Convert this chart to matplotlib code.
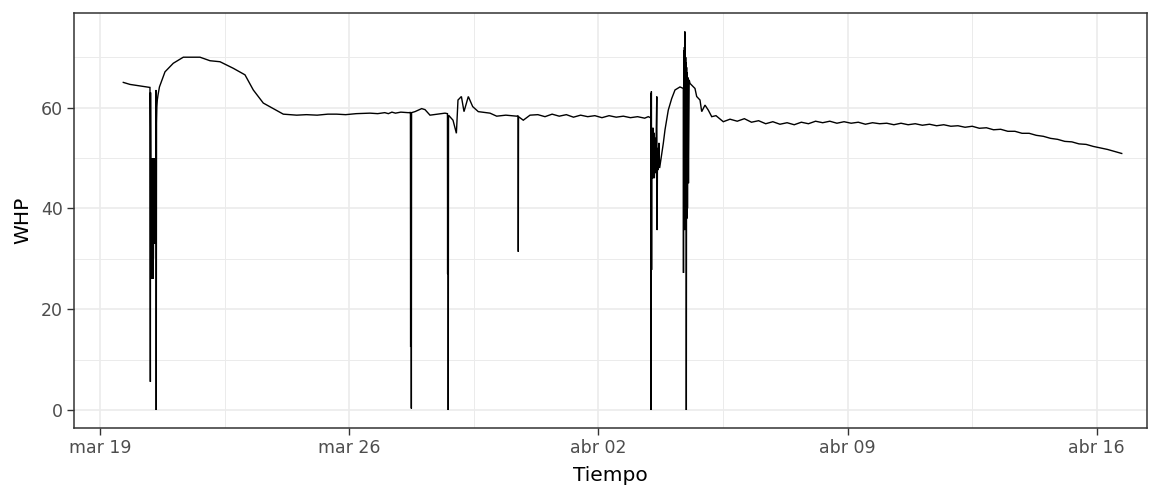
import numpy as np
import pandas as pd
import matplotlib
matplotlib.use("Agg")
import matplotlib.pyplot as plt

# ---------------- data (days since 2019-03-19 00:00, WHP) ----------------
start_date = "2019-03-19"

days = [
    0.655, 0.843, 1.124, 1.404,
    1.415, 1.420, 1.428, 1.436, 1.444, 1.452, 1.460, 1.468, 1.476, 1.484,
    1.492, 1.500, 1.508, 1.516, 1.524, 1.532, 1.540, 1.548, 1.556, 1.564,
    1.572, 1.580, 1.588, 1.598, 1.610, 1.630, 1.670,
    1.826, 2.059, 2.340, 2.809, 3.090, 3.371, 3.744, 4.073, 4.306, 4.587,
    4.868, 5.149, 5.525, 5.800, 6.100, 6.400, 6.649, 6.900, 7.200, 7.584,
    7.800, 8.000, 8.100, 8.200, 8.300, 8.450, 8.652,
    8.700, 8.720, 8.726, 8.730, 8.734, 8.738, 8.742, 8.746, 8.752,
    8.848, 9.036, 9.129, 9.270, 9.691,
    9.760, 9.765, 9.770, 9.774, 9.778, 9.782, 9.790,
    9.916, 10.011, 10.056, 10.152, 10.225, 10.346, 10.469, 10.626, 10.955,
    11.143, 11.400, 11.705, 11.745, 11.750, 11.756, 11.890, 12.079,
    12.30, 12.50, 12.70, 12.90, 13.10, 13.30, 13.50, 13.70, 13.90, 14.10,
    14.30, 14.50, 14.70, 14.90, 15.10, 15.30, 15.40, 15.465,
    15.470, 15.476, 15.480, 15.484, 15.488, 15.494, 15.500, 15.508, 15.516,
    15.524, 15.532, 15.540, 15.548, 15.556, 15.564, 15.572, 15.600, 15.610,
    15.620, 15.640, 15.650, 15.660, 15.680, 15.700, 15.720,
    15.823, 15.871, 15.963, 16.059, 16.152, 16.292, 16.385,
    16.390, 16.396, 16.404, 16.410, 16.416, 16.422, 16.428, 16.434, 16.440,
    16.446, 16.452, 16.458, 16.464, 16.470, 16.478, 16.486, 16.494, 16.502,
    16.512, 16.530, 16.550,
    16.573, 16.713, 16.761, 16.854, 16.902, 16.994, 17.087, 17.183, 17.303,
    17.508, 17.697,
    17.90, 18.10, 18.30, 18.50, 18.70, 18.90, 19.10, 19.30, 19.50, 19.70,
    19.90, 20.10, 20.30, 20.50, 20.70, 20.90, 21.10, 21.30, 21.50, 21.70,
    21.90, 22.10, 22.30, 22.50, 22.70, 22.90, 23.10, 23.30, 23.50, 23.70,
    23.90, 24.10, 24.30, 24.50, 24.70, 24.90, 25.10, 25.30, 25.50, 25.70,
    25.90, 26.10, 26.30, 26.50, 26.70, 26.90, 27.10, 27.30, 27.50, 27.70,
    27.90, 28.10, 28.30, 28.50, 28.70,
]

whp = [
    65.0, 64.6, 64.3, 64.0,
    5.6, 63.0, 50.0, 26.0, 49.0, 28.0, 50.0, 27.0, 48.0, 26.0,
    50.0, 30.0, 49.0, 33.0, 50.0, 33.0, 48.0, 35.0, 50.0, 33.0,
    63.5, 0.0, 57.0, 60.2, 61.5, 62.5, 64.1,
    67.1, 68.8, 70.0, 70.0, 69.3, 69.1, 67.8, 66.5, 63.5, 60.9,
    59.8, 58.7, 58.5, 58.6, 58.5, 58.7, 58.7, 58.6, 58.8, 58.9,
    58.8, 59.0, 58.8, 59.1, 58.9, 59.1, 59.0,
    59.0, 59.1, 12.5, 58.0, 13.0, 57.0, 12.5, 0.3, 59.0,
    59.2, 59.8, 59.6, 58.5, 58.9,
    58.8, 27.0, 58.0, 26.8, 57.0, 0.0, 58.5,
    57.5, 54.9, 61.5, 62.2, 59.2, 62.2, 60.2, 59.2, 58.9,
    58.3, 58.5, 58.3, 58.4, 31.4, 58.2, 57.5, 58.5,
    58.6, 58.2, 58.7, 58.3, 58.6, 58.1, 58.5, 58.2, 58.4, 58.0,
    58.4, 58.1, 58.3, 58.0, 58.2, 57.9, 58.2, 58.0,
    57.8, 0.0, 62.8, 0.0, 63.2, 27.8, 55.0, 46.0, 55.0,
    47.0, 56.0, 46.0, 54.0, 48.0, 55.0, 46.0, 54.0, 47.0,
    53.0, 62.2, 35.7, 52.0, 47.6, 53.0, 48.0,
    52.9, 55.6, 59.5, 61.8, 63.5, 64.1, 63.8,
    27.2, 63.8, 71.4, 36.0, 72.0, 35.7, 75.1, 36.0, 71.0,
    37.0, 70.0, 36.0, 69.0, 0.0, 68.0, 38.0, 67.0, 40.0,
    66.0, 45.0, 65.5,
    64.8, 63.8, 62.2, 61.5, 59.2, 60.5, 59.5, 58.2, 58.4,
    57.2, 57.7,
    57.3, 57.8, 57.1, 57.4, 56.8, 57.2, 56.7, 57.0, 56.6, 57.1,
    56.8, 57.3, 57.0, 57.3, 56.9, 57.2, 56.9, 57.1, 56.7, 57.0,
    56.8, 56.9, 56.6, 56.9, 56.6, 56.8, 56.5, 56.7, 56.4, 56.6,
    56.3, 56.4, 56.1, 56.3, 55.9, 56.0, 55.6, 55.7, 55.3, 55.3,
    54.9, 54.9, 54.5, 54.3, 53.9, 53.7, 53.3, 53.2, 52.8, 52.7,
    52.3, 52.0, 51.7, 51.3, 50.9,
]

x_tick_dates = ["2019-03-19", "2019-03-26", "2019-04-02", "2019-04-09", "2019-04-16"]
x_tick_labels = ["mar 19", "mar 26", "abr 02", "abr 09", "abr 16"]
x_minor_dates = ["2019-03-22 12:00", "2019-03-29 12:00", "2019-04-05 12:00", "2019-04-12 12:00"]
y_ticks = [0, 20, 40, 60]
y_minor = [10, 30, 50, 70]
x_label = "Tiempo"
y_label = "WHP"

# ---------------- plot ----------------
plt.rcParams['font.family'] = ['DejaVu Sans']

t0 = pd.Timestamp(start_date)
t = t0 + pd.to_timedelta(np.array(days), unit="D")

W, H = 1160, 491
fig = plt.figure(figsize=(W / 100, H / 100), dpi=100)
left, right, top, bottom = 74, 1147, 13, 428
ax = fig.add_axes([left / W, 1 - bottom / H, (right - left) / W, (bottom - top) / H])

grid_col = "#EBEBEB"
ax.set_axisbelow(True)
ax.plot(t, whp, color="black", lw=1.0, solid_joinstyle="miter")

ax.set_xlim(t0 + pd.Timedelta(days=-0.73), t0 + pd.Timedelta(days=29.41))
ax.set_ylim(-3.57, 78.77)

xt = pd.to_datetime(x_tick_dates)
ax.set_xticks(xt)
ax.set_xticklabels(x_tick_labels)
ax.set_xticks(pd.to_datetime(x_minor_dates), minor=True)
ax.set_yticks(y_ticks)
ax.set_yticks(y_minor, minor=True)

ax.grid(which="major", color=grid_col, lw=1.2)
ax.grid(which="minor", color=grid_col, lw=0.7)

for s in ax.spines.values():
    s.set_color("#333333")
    s.set_linewidth(1.1)

ax.tick_params(which="major", length=5, width=1, color="#333333",
               labelcolor="#4D4D4D", labelsize=12.5, pad=3.2)
ax.tick_params(which="minor", length=0)

ax.set_xlabel(x_label, fontsize=14.5, color="black", labelpad=6)
ax.set_ylabel(y_label, fontsize=14.5, color="black", labelpad=6)

fig.savefig("out.png", dpi=100, facecolor="white")
